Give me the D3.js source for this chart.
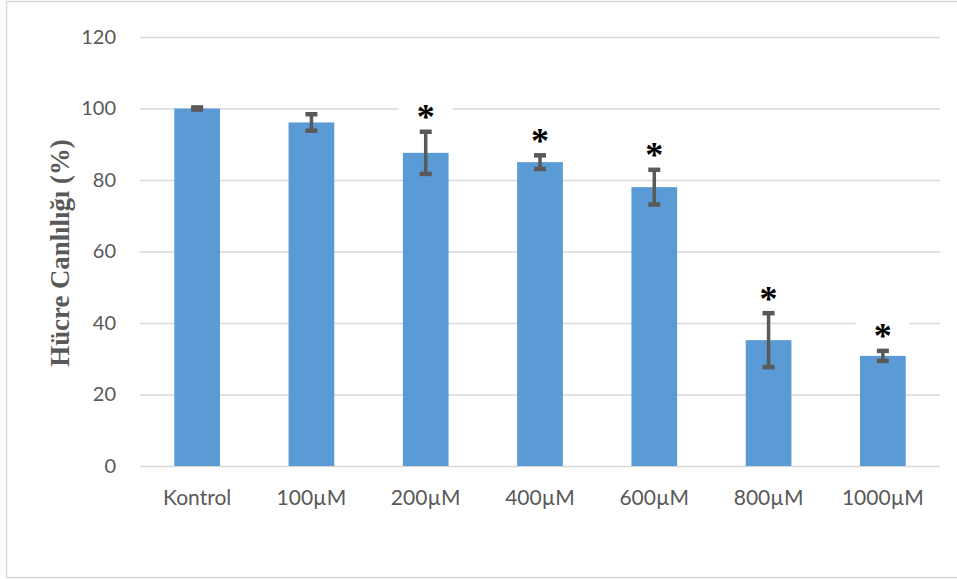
<!DOCTYPE html>
<html>
<head>
<meta charset="utf-8">
<script src="https://cdn.jsdelivr.net/npm/d3@7"></script>
<style>
  html, body { margin: 0; padding: 0; background: #fff; }
  svg { display: block; }
</style>
</head>
<body>
<svg id="chart" width="957" height="579"></svg>
<script>
// Cell viability per dose (mean, error), with significance marks
const categories = ["Kontrol", "100µM", "200µM", "400µM", "600µM", "800µM", "1000µM"];
const viability = [100, 96.1, 87.6, 85.0, 78.0, 35.2, 30.8];
const errors = [0.3, 2.3, 5.9, 1.9, 4.85, 7.55, 1.4];
const marks = ["", "", "*", "*", "*", "*", "*"];
const yTicks = [0, 20, 40, 60, 80, 100, 120];
const yTitle = "Hücre Canlılığı (%)";

const svg = d3.select("#chart");
const W = 957, H = 579;
const plot = { left: 140, right: 940, top: 37, bottom: 466 };

const grey = "#595959";
const gridCol = "#d9d9d9";
const barCol = "#5b9bd5";

// outer chart frame (extends past the right edge)
svg.append("rect")
  .attr("x", 6.5).attr("y", 1.5)
  .attr("width", W + 20).attr("height", 576)
  .attr("fill", "none").attr("stroke", gridCol).attr("stroke-width", 1.5);

const x = d3.scaleBand()
  .domain(categories)
  .range([plot.left, plot.right])
  .paddingInner(0.6)
  .paddingOuter(0.3);

const y = d3.scaleLinear()
  .domain([0, 120])
  .range([plot.bottom, plot.top]);

// horizontal gridlines + tick labels
const yAxis = d3.axisLeft(y)
  .tickValues(yTicks)
  .tickSize(-(plot.right - plot.left))
  .tickPadding(24)
  .tickFormat(d3.format("d"));

const gy = svg.append("g")
  .attr("transform", `translate(${plot.left},0)`)
  .call(yAxis);
gy.select(".domain").remove();
gy.selectAll(".tick line").attr("stroke", gridCol).attr("stroke-width", 1.5);
gy.selectAll(".tick text")
  .attr("fill", grey)
  .style("font-family", "Lato, 'Open Sans', sans-serif")
  .style("font-size", "20px");

// category labels
const xAxis = d3.axisBottom(x).tickSize(0).tickPadding(24);
const gx = svg.append("g")
  .attr("transform", `translate(0,${plot.bottom})`)
  .call(xAxis);
gx.select(".domain").remove();
gx.selectAll(".tick text")
  .attr("fill", grey)
  .style("font-family", "Lato, 'Open Sans', sans-serif")
  .style("font-size", "21px");

const rows = categories.map((c, i) => ({ c, v: viability[i], e: errors[i], m: marks[i] }));

// bars
svg.append("g").selectAll("rect")
  .data(rows)
  .join("rect")
  .attr("x", d => x(d.c))
  .attr("width", x.bandwidth())
  .attr("y", d => y(d.v))
  .attr("height", d => y(0) - y(d.v))
  .attr("fill", barCol);

// error bars
const capHalf = 6;
const eb = svg.append("g").attr("stroke", grey);
rows.forEach(d => {
  const cx = x(d.c) + x.bandwidth() / 2;
  eb.append("line")
    .attr("x1", cx).attr("x2", cx)
    .attr("y1", y(d.v + d.e)).attr("y2", y(d.v - d.e))
    .attr("stroke-width", 3.5);
  [d.v + d.e, d.v - d.e].forEach(val => {
    eb.append("line")
      .attr("x1", cx - capHalf).attr("x2", cx + capHalf)
      .attr("y1", y(val)).attr("y2", y(val))
      .attr("stroke-width", 4.5);
  });
});

// significance marks on white label boxes
const fs = 36;
const lab = svg.append("g");
rows.filter(d => d.m).forEach(d => {
  const cx = x(d.c) + x.bandwidth() / 2;
  const cy = y(d.v + d.e) - 20.5;
  lab.append("rect")
    .attr("x", cx - 27).attr("y", cy - 14)
    .attr("width", 54).attr("height", 28)
    .attr("fill", "#fff");
  lab.append("text")
    .attr("x", cx).attr("y", cy + 0.5 * fs)
    .attr("text-anchor", "middle")
    .attr("fill", "#000")
    .style("font-family", "'Liberation Serif', 'Times New Roman', serif")
    .style("font-weight", "bold")
    .style("font-size", fs + "px")
    .text(d.m);
});

// y axis title
svg.append("text")
  .attr("transform", "translate(69,253) rotate(-90)")
  .attr("text-anchor", "middle")
  .attr("fill", grey)
  .style("font-family", "'Liberation Serif', 'Times New Roman', serif")
  .style("font-weight", "bold")
  .style("font-size", "26.8px")
  .text(yTitle);
</script>
</body>
</html>
